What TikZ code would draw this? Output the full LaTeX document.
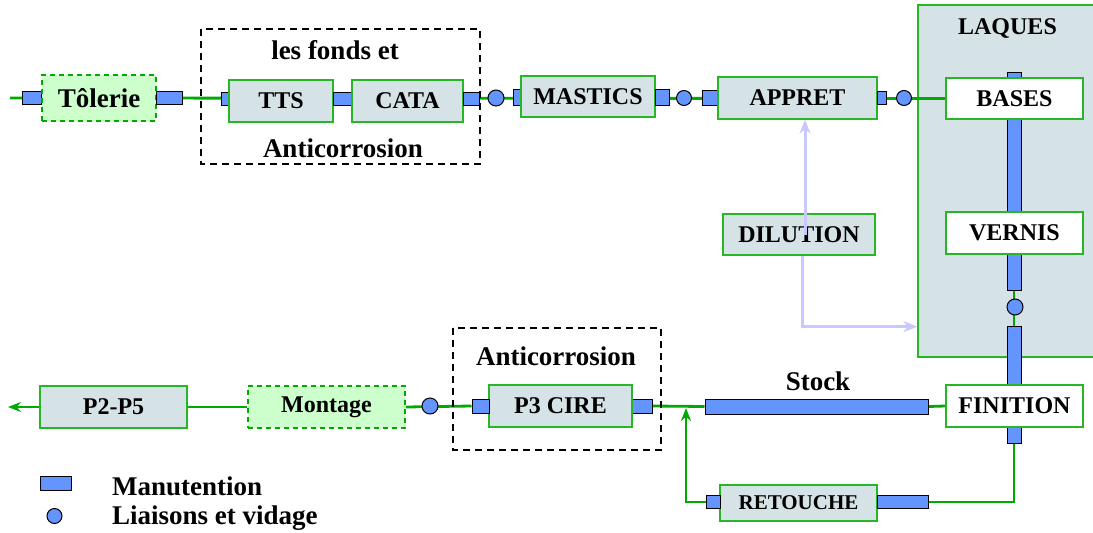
\documentclass[tikz,border=0pt]{standalone}
\usepackage{fontspec}
\setmainfont{Liberation Serif}
\usetikzlibrary{arrows.meta}
\definecolor{vert}{RGB}{0,170,0}
\definecolor{gris}{RGB}{214,227,230}
\definecolor{vertclair}{RGB}{204,255,204}
\definecolor{bleu}{RGB}{100,149,255}
\definecolor{lavande}{RGB}{200,200,255}
\pgfdeclarelayer{panneau}
\pgfdeclarelayer{fond}
\pgfsetlayers{panneau,fond,main}
\begin{document}
\begin{tikzpicture}[x=1pt,y=-1pt,
    poste/.style={draw=vert!85, fill=gris, line width=1.3pt, minimum height=42pt, inner sep=0pt, font=\fontsize{24}{24}\selectfont\bfseries},
    externe/.style={poste, draw=vert, line width=1.8pt, dash pattern=on 5pt off 4pt, fill=vertclair},
    laque/.style={poste, fill=white},
    manut/.style={draw=black, fill=bleu, line width=1pt, minimum height=13pt, inner sep=0pt},
    liaison/.style={circle, draw=black, fill=bleu, line width=1pt, minimum size=15pt, inner sep=0pt},
    titre/.style={font=\fontsize{27}{27}\selectfont\bfseries, inner sep=0pt},
    ligne/.style={draw=vert, line width=2.8pt},
    dil/.style={draw=lavande, line width=3pt, -{Stealth[length=14pt,width=11pt]}},
    cadre/.style={draw=black, line width=1.3pt, dash pattern=on 7pt off 5pt}]
  \useasboundingbox (0,0) rectangle (1093,533);

  % ligne du haut
  \coordinate (debut) at (10,98);
  \node[manut, minimum width=19pt] (m1) at (31.5,98) {};
  \node[externe, minimum width=114pt, minimum height=46pt, font=\fontsize{27}{27}\selectfont\bfseries] (tolerie) at (99,98) {Tôlerie};
  \node[manut, minimum width=26pt] (m2) at (169,98) {};
  \draw[cadre] (201,29) rectangle (480,164);
  \node[titre] (fonds) at (335,50) {les fonds et};
  \node[titre] (anti1) at (343,148) {Anticorrosion};
  \node[manut, minimum width=8pt] (m3) at (225,99) {};
  \node[poste, minimum width=104pt] (tts) at (281,101) {TTS};
  \node[manut, minimum width=19pt] (m4) at (342.5,99) {};
  \node[poste, minimum width=111pt] (cata) at (407.5,101) {CATA};
  \node[manut, minimum width=16pt] (m5) at (471,99) {};
  \node[liaison, minimum size=16pt] (l1) at (496,98) {};
  \node[manut, minimum width=8pt, minimum height=16pt] (m6) at (517,97.5) {};
  \node[poste, minimum width=134pt, minimum height=41pt] (mastics) at (588,96.5) {MASTICS};
  \node[manut, minimum width=14pt, minimum height=16pt] (m7) at (662,97.5) {};
  \node[liaison] (l2) at (684,98) {};
  \node[manut, minimum width=16pt, minimum height=15pt] (m8) at (710,98) {};
  \node[poste, minimum width=159pt] (appret) at (797.5,98) {APPRET};
  \node[manut, minimum width=9pt] (m9) at (881.5,98) {};
  \node[liaison] (l3) at (904,98) {};

  % laques
  \begin{pgfonlayer}{panneau}
    \node[draw=vert!85, fill=gris, line width=1.3pt, minimum width=182pt, minimum height=352pt] (laques) at (1009,181) {};
  \end{pgfonlayer}
  \node[poste, fill=none, draw=none, minimum height=0pt] (titrelaques) at (1007.5,28) {LAQUES};
  \node[manut, minimum width=14pt, minimum height=218pt] (barre1) at (1014,181) {};
  \node[laque, minimum width=137pt, minimum height=41pt] (bases) at (1014.5,98.5) {BASES};
  \node[laque, minimum width=137pt] (vernis) at (1014.5,233) {VERNIS};
  \node[liaison, minimum size=16pt] (l4) at (1015,307) {};
  \node[manut, minimum width=14pt, minimum height=117pt] (barre2) at (1014,384.5) {};

  % dilution
  \node[poste, minimum width=152pt, minimum height=41pt] (dilution) at (799,234.5) {DILUTION};
  \draw[dil] ([xshift=6pt]dilution.center) -- ([xshift=6pt]dilution.center |- appret.south);
  \draw[dil] ([xshift=3pt]dilution.south) |- ([yshift=31pt]laques.south west);

  % ligne du bas
  \node[laque, minimum width=137pt] (finition) at (1014.5,406) {FINITION};
  \node[manut, minimum width=223pt, minimum height=15pt] (stock) at (816.5,406.5) {};
  \node[titre] (lstock) at (818,381) {Stock};
  \draw[cadre] (453,328) rectangle (661,450);
  \node[titre] (anti2) at (556,356) {Anticorrosion};
  \node[manut, minimum width=20pt, minimum height=14pt] (m10) at (642,406) {};
  \node[poste, minimum width=143pt] (cire) at (560.5,406) {P3 CIRE};
  \node[manut, minimum width=17pt, minimum height=14pt] (m11) at (480.5,406) {};
  \node[liaison, minimum size=16pt] (l5) at (430,406) {};
  \node[externe, minimum width=157pt] (montage) at (326.5,407) {Montage};
  \node[poste, minimum width=147pt] (p2p5) at (113.5,407) {P2-P5};
  \coordinate (fin) at (8,407);
  \coordinate (jonction) at (686,408);

  % retouche
  \node[poste, minimum width=157pt, minimum height=36pt, font=\fontsize{21}{21}\selectfont\bfseries] (retouche) at (798.5,503) {RETOUCHE};
  \node[manut, minimum width=14pt] (m12) at (713,502) {};
  \node[manut, minimum width=51pt] (m13) at (902.5,502) {};

  \begin{pgfonlayer}{fond}
    \draw[ligne] (debut) -- (bases.west);
    \draw[ligne] (barre1.south) -- (barre2.north);
    \draw[ligne] (m11.west) -- (montage.east);
    \draw[ligne] (montage.west) -- (p2p5.east);
    \draw[ligne, -{Stealth[length=13pt,width=10pt]}] (p2p5.west) -- (fin);
    \draw[ligne] (stock.east) -- (finition.west);
    \draw[ligne] (m10.east) -- (stock.west);
    \draw[ligne] (barre2.south) |- (m13.east);
    \draw[ligne, -{Stealth[length=13pt,width=10pt]}] (m12.west) -| (jonction);
  \end{pgfonlayer}

  % legende
  \node[manut, minimum width=31pt, minimum height=14pt] (legm) at (55.5,483) {};
  \node[titre, anchor=west] (legmt) at (112,486) {Manutention};
  \node[liaison] (legl) at (54.5,516) {};
  \node[titre, anchor=west] (leglt) at (112,518) {Liaisons et vidage};
\end{tikzpicture}
\end{document}
